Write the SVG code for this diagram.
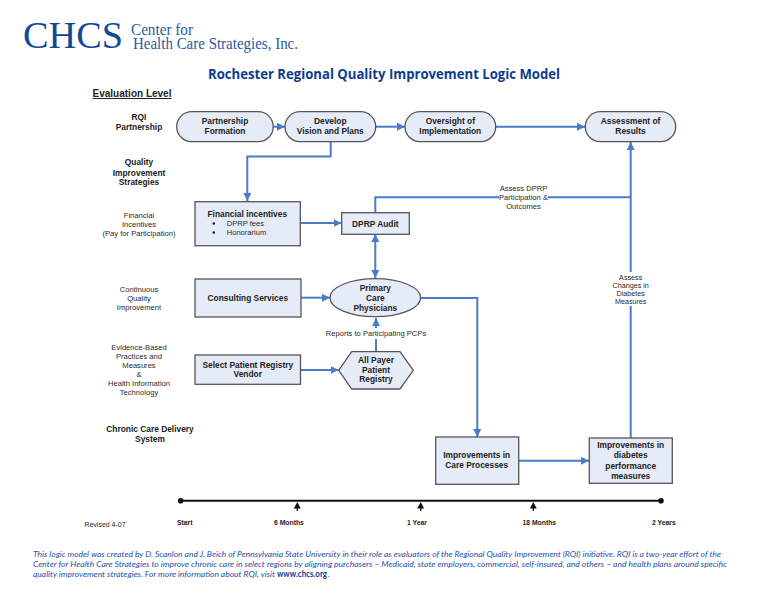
<svg xmlns="http://www.w3.org/2000/svg" width="768" height="597" viewBox="0 0 768 597">
<defs>
<marker id="ah" markerUnits="userSpaceOnUse" markerWidth="9" markerHeight="9" refX="8" refY="4.500" orient="auto"><path d="M0 0.500L8 4.500L0 8.500Z" fill="#4a7cc9"/></marker>
<marker id="as" markerUnits="userSpaceOnUse" markerWidth="9" markerHeight="9" refX="1" refY="4.500" orient="auto"><path d="M8 0.500L0 4.500L8 8.500Z" fill="#4a7cc9"/></marker>
</defs>
<style>
text{font-family:"Liberation Sans",Arial,sans-serif;text-anchor:middle;fill:#222}
.n{fill:#e6ecf7;stroke:#555;stroke-width:1.3}
.b{font-weight:bold;font-size:8.4px}
.l{font-size:7.6px;fill:#2a2a2a}
.s{font-size:7.6px;fill:#2a2a2a}
.t{font-weight:bold;font-size:6.8px;text-anchor:start}
.c{fill:none;stroke:#4a7cc9;stroke-width:2}
.f{font-family:Lato,"Liberation Sans",sans-serif;font-style:italic;font-size:8.5px;fill:#1f4fa3;text-anchor:start}
.g{font-family:"Liberation Serif",serif;fill:#2a5aa5;text-anchor:start}
</style>
<rect width="768" height="597" fill="#fff"/>
<g id="logo">
<text class="g" x="23" y="47.500" font-size="38" textLength="100" lengthAdjust="spacingAndGlyphs" style="fill:#104a97">CHCS</text>
<text class="g" x="131" y="34.500" font-size="16.500" textLength="62" lengthAdjust="spacingAndGlyphs">Center for</text>
<text class="g" x="133" y="48.500" font-size="16.500" textLength="165" lengthAdjust="spacingAndGlyphs">Health Care Strategies, Inc.</text>
</g>
<text id="title" x="384" y="79" font-size="14" font-weight="bold" textLength="352" lengthAdjust="spacingAndGlyphs" style="font-family:'Open Sans','Liberation Sans',sans-serif;fill:#0d3c8f">Rochester Regional Quality Improvement Logic Model</text>
<g id="levels">
<text x="132" y="97" font-size="10" font-weight="bold" text-decoration="underline">Evaluation Level</text>
<text class="b" x="139" y="119.500">RQI</text><text class="b" x="139" y="129.500">Partnership</text>
<text class="b" x="139" y="165">Quality</text><text class="b" x="139" y="175.500">Improvement</text><text class="b" x="139" y="185">Strategies</text>
<text class="l" x="139" y="218">Financial</text><text class="l" x="139" y="226.500">Incentives</text><text class="l" x="139" y="236">(Pay for Participation)</text>
<text class="l" x="139" y="291.500">Continuous</text><text class="l" x="139" y="300.500">Quality</text><text class="l" x="139" y="310">Improvement</text>
<text class="l" x="139" y="349.500">Evidence-Based</text><text class="l" x="139" y="359">Practices and</text><text class="l" x="139" y="368">Measures</text><text class="l" x="139" y="376.500">&amp;</text><text class="l" x="139" y="386">Health Information</text><text class="l" x="139" y="395">Technology</text>
<text class="b" x="150" y="431.500">Chronic Care Delivery</text><text class="b" x="150" y="441.500">System</text>
<text class="s" style="font-size:7px" x="105" y="526.500">Revised 4-07</text>
</g>
<g id="connectors">
<path class="c" marker-end="url(#ah)" d="M273.500 126.700H285"/>
<path class="c" marker-end="url(#ah)" d="M375.700 126.700H405"/>
<path class="c" marker-end="url(#ah)" d="M495.700 126.700H585"/>
<path class="c" marker-end="url(#ah)" d="M330.700 142V156.500H247.300V201"/>
<path class="c" marker-end="url(#ah)" d="M300.500 223H341.500"/>
<path class="c" d="M375.300 212.500V197.300H630.700"/>
<path class="c" marker-end="url(#ah)" d="M630.700 438V142"/>
<path class="c" marker-start="url(#as)" marker-end="url(#ah)" d="M375.300 235V278"/>
<path class="c" marker-end="url(#ah)" d="M301 297.700H330"/>
<path class="c" marker-end="url(#ah)" d="M376 351.500V318"/>
<path class="c" marker-end="url(#ah)" d="M300.500 370H338.500"/>
<path class="c" marker-end="url(#ah)" d="M420.700 298H477.300V437"/>
<path class="c" marker-end="url(#ah)" d="M518.700 460.700H589"/>
</g>
<g id="edge-labels">
<rect x="499" y="184" width="49" height="27" fill="#fff"/>
<text class="s" x="523.500" y="191">Assess DPRP</text><text class="s" x="523.500" y="200">Participation &amp;</text><text class="s" x="523.500" y="208.500">Outcomes</text>
<rect x="612" y="272" width="37" height="34" fill="#fff"/>
<text class="s" style="font-size:7.2px" x="630.700" y="279.500">Assess</text><text class="s" style="font-size:7.2px" x="630.700" y="287.500">Changes in</text><text class="s" style="font-size:7.2px" x="630.700" y="295.500">Diabetes</text><text class="s" style="font-size:7.2px" x="630.700" y="304">Measures</text>
<rect x="325" y="328" width="102" height="11" fill="#fff"/>
<text class="l" x="376" y="336">Reports to Participating PCPs</text>
</g>
<g id="partnership-formation"><rect class="n" x="176.700" y="111.700" width="96.500" height="30" rx="15"/><text class="b" x="225" y="124">Partnership</text><text class="b" x="225" y="134">Formation</text></g>
<g id="develop-vision"><rect class="n" x="285" y="111.700" width="90.700" height="30" rx="15"/><text class="b" x="330.300" y="124">Develop</text><text class="b" x="330.300" y="134">Vision and Plans</text></g>
<g id="oversight"><rect class="n" x="405" y="111.700" width="90.700" height="30" rx="15"/><text class="b" x="450.300" y="124">Oversight of</text><text class="b" x="450.300" y="134">Implementation</text></g>
<g id="assessment"><rect class="n" x="585.300" y="111.700" width="90.400" height="30" rx="15"/><text class="b" x="630.500" y="124">Assessment of</text><text class="b" x="630.500" y="134">Results</text></g>
<g id="financial-incentives"><rect class="n" x="195" y="201.700" width="105.300" height="44"/><text class="b" x="247.300" y="217">Financial incentives</text>
<circle cx="213.800" cy="223.500" r="1.200" fill="#111"/><circle cx="213.800" cy="232.500" r="1.200" fill="#111"/>
<text class="l" style="text-anchor:start" x="226.700" y="226">DPRP fees</text><text class="l" style="text-anchor:start" x="226.700" y="235">Honorarium</text></g>
<g id="dprp-audit"><rect class="n" x="341.700" y="212.700" width="67.600" height="21.600"/><text class="b" x="375.300" y="226.500">DPRP Audit</text></g>
<g id="consulting-services"><rect class="n" x="195" y="279" width="106" height="38"/><text class="b" x="247.800" y="301">Consulting Services</text></g>
<g id="primary-care"><ellipse class="n" cx="375.300" cy="297.700" rx="45.300" ry="19"/><text class="b" x="375.300" y="291">Primary</text><text class="b" x="375.300" y="300.500">Care</text><text class="b" x="375.300" y="310.500">Physicians</text></g>
<g id="select-vendor"><rect class="n" x="195" y="355" width="105.500" height="29.300"/><text class="b" x="247.800" y="367.500">Select Patient Registry</text><text class="b" x="247.800" y="377">Vendor</text></g>
<g id="registry"><path class="n" d="M338.700 370.300L351.700 351.700H400L413.300 370.300L400 389H351.700Z"/><text class="b" x="376" y="362.500">All Payer</text><text class="b" x="376" y="372.500">Patient</text><text class="b" x="376" y="382">Registry</text></g>
<g id="improvements-care"><rect class="n" x="435.700" y="437" width="83" height="47.300"/><text class="b" x="476.700" y="458">Improvements in</text><text class="b" x="476.700" y="468">Care Processes</text></g>
<g id="improvements-diabetes"><rect class="n" x="589.300" y="438" width="83" height="45.300"/><text class="b" x="630.700" y="448">Improvements in</text><text class="b" x="630.700" y="458">diabetes</text><text class="b" x="630.700" y="469">performance</text><text class="b" x="630.700" y="479">measures</text></g>
<g id="timeline">
<path d="M181 500.700H661" stroke="#111" stroke-width="2" fill="none"/>
<circle cx="180.700" cy="500.700" r="2.800" fill="#111"/><circle cx="661" cy="500.700" r="2.800" fill="#111"/>
<path d="M297.300 511V506M420.700 511V506M533.300 511V506" stroke="#111" stroke-width="1.300"/>
<path d="M297.300 502L293.800 508.500H300.800ZM420.700 502L417.200 508.500H424.200ZM533.300 502L529.800 508.500H536.800Z" fill="#111"/>
<text class="t" x="177" y="524.500">Start</text><text class="t" x="274" y="524.500">6 Months</text><text class="t" x="407" y="524.500">1 Year</text><text class="t" x="522.500" y="524.500">18 Months</text><text class="t" x="652" y="524.500">2 Years</text>
</g>
<g id="footer">
<text class="f" x="33" y="557" textLength="688" lengthAdjust="spacingAndGlyphs">This logic model was created by D. Scanlon and J. Beich of Pennsylvania State University in their role as evaluators of the Regional Quality Improvement (RQI) initiative. RQI is a two-year effort of the</text>
<text class="f" x="33" y="567" textLength="694" lengthAdjust="spacingAndGlyphs">Center for Health Care Strategies to improve chronic care in select regions by aligning purchasers – Medicaid, state employers, commercial, self-insured, and others – and health plans around specific</text>
<text class="f" x="33" y="577" textLength="242" lengthAdjust="spacingAndGlyphs">quality improvement strategies. For more information about RQI, visit</text>
<text class="f" x="277" y="577" textLength="50" lengthAdjust="spacingAndGlyphs" style="font-weight:bold;font-style:normal;fill:#0d3c8f">www.chcs.org</text>
<text class="f" x="328" y="577">.</text>
</g>
</svg>
